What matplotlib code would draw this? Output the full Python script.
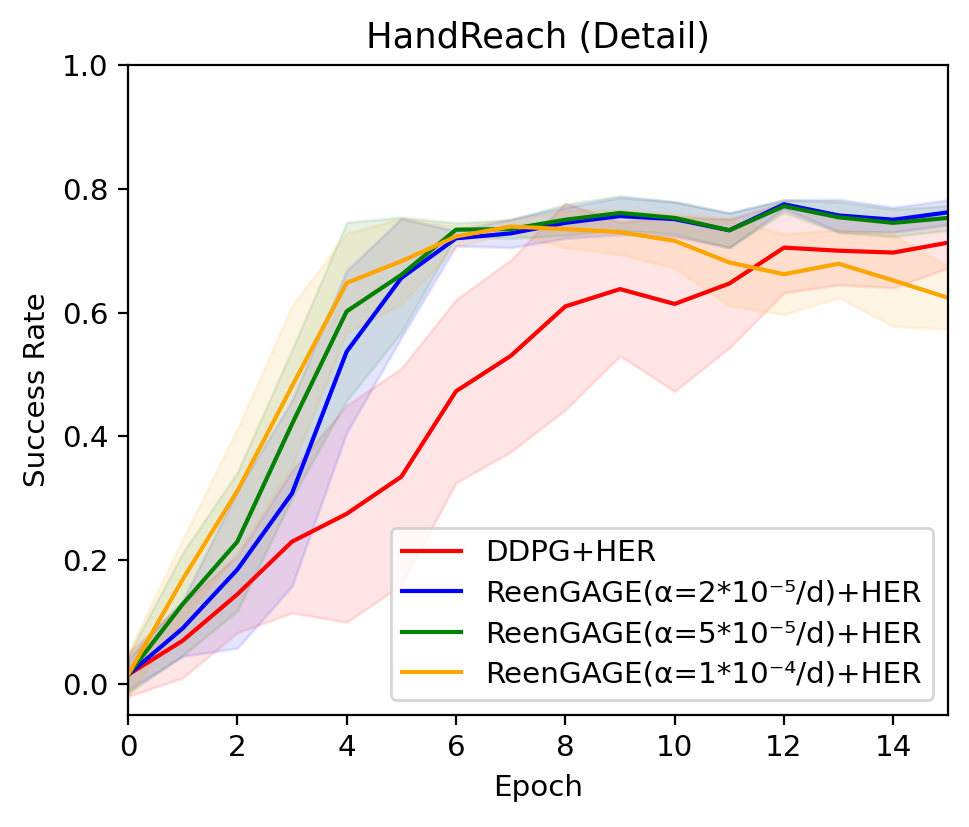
import matplotlib
matplotlib.use("Agg")
import matplotlib.pyplot as plt
import numpy as np

plt.rcParams['font.size'] = 10.6
plt.rcParams['axes.titlesize'] = 12.7

epochs = list(range(16))

labels = ["DDPG+HER",
          "ReenGAGE(α=2*10⁻⁵/d)+HER",
          "ReenGAGE(α=5*10⁻⁵/d)+HER",
          "ReenGAGE(α=1*10⁻⁴/d)+HER"]
colors = ["red", "blue", "green", "orange"]

ddpg_mean = [0.015, 0.07, 0.145, 0.23, 0.275, 0.335, 0.473, 0.53, 0.61, 0.638, 0.614, 0.647, 0.705, 0.70, 0.697, 0.713]
ddpg_std = [0.035, 0.06, 0.062, 0.115, 0.175, 0.175, 0.148, 0.155, 0.167, 0.108, 0.141, 0.104, 0.073, 0.055, 0.057, 0.041]

a2_mean = [0.015, 0.09, 0.185, 0.308, 0.537, 0.656, 0.72, 0.728, 0.745, 0.756, 0.751, 0.733, 0.775, 0.757, 0.75, 0.762]
a2_std = [0.025, 0.045, 0.127, 0.15, 0.131, 0.096, 0.012, 0.023, 0.025, 0.03, 0.028, 0.028, 0.007, 0.026, 0.02, 0.02]

a5_mean = [0.015, 0.129, 0.23, 0.42, 0.602, 0.661, 0.734, 0.735, 0.75, 0.761, 0.753, 0.733, 0.772, 0.754, 0.745, 0.753]
a5_std = [0.03, 0.083, 0.112, 0.12, 0.144, 0.093, 0.011, 0.015, 0.025, 0.028, 0.026, 0.028, 0.01, 0.025, 0.022, 0.02]

a1_mean = [0.015, 0.169, 0.312, 0.481, 0.648, 0.683, 0.723, 0.739, 0.735, 0.73, 0.716, 0.681, 0.662, 0.679, 0.652, 0.624]
a1_std = [0.035, 0.065, 0.10, 0.13, 0.08, 0.069, 0.016, 0.011, 0.03, 0.036, 0.044, 0.07, 0.065, 0.055, 0.074, 0.051]

means = [ddpg_mean, a2_mean, a5_mean, a1_mean]
stds = [ddpg_std, a2_std, a5_std, a1_std]

fig = plt.figure(figsize=(969 / 200, 827 / 200), dpi=200)
ax = fig.add_axes([128 / 969, 1 - 715 / 827, (948 - 128) / 969, (715 - 65) / 827])

x = np.array(epochs)
for m, s, c, lab in zip(means, stds, colors, labels):
    m = np.array(m)
    s = np.array(s)
    ax.plot(x, m, color=c, linewidth=1.5, label=lab)
    ax.fill_between(x, m - s, m + s, color=c, alpha=0.1)

ax.set_xlim(0, 15)
ax.set_ylim(-0.05, 1.0)
ax.set_xticks([0, 2, 4, 6, 8, 10, 12, 14])
ax.set_yticks([0.0, 0.2, 0.4, 0.6, 0.8, 1.0])
ax.set_xlabel("Epoch")
ax.set_ylabel("Success Rate")
ax.set_title("HandReach (Detail)")
ax.legend(loc="lower right", labelspacing=0.42)

fig.savefig("out.png", dpi=200)
